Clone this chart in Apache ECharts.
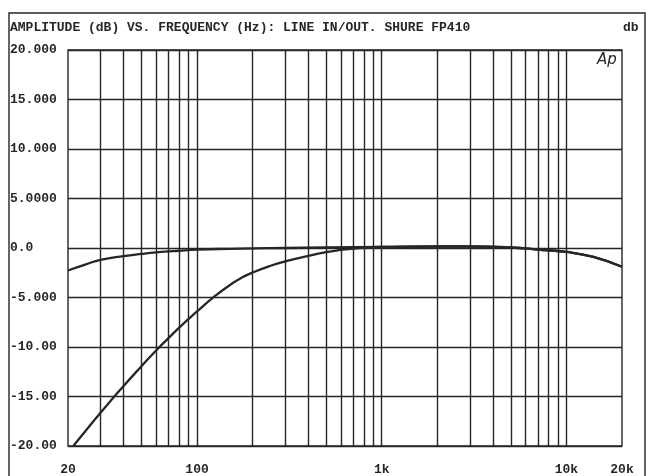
<!DOCTYPE html>
<html>
<head>
<meta charset="utf-8">
<script src="https://cdn.jsdelivr.net/npm/echarts@6/dist/echarts.min.js"></script>
<style>html,body{margin:0;padding:0;background:#fff}#c{width:649px;height:476px}</style>
</head>
<body>
<div id="c"></div>
<script>
// Frequency response data (Hz, dB)
const freqA = [20, 25, 30, 40, 50, 60, 80, 100, 150, 200, 300, 500, 1000, 2000, 3000, 5000, 7000, 10000, 14000, 20000];
const dbA   = [-2.27, -1.65, -1.2, -0.82, -0.6, -0.45, -0.28, -0.17, -0.08, -0.04, 0, 0.05, 0.1, 0.15, 0.15, 0.05, -0.15, -0.4, -0.9, -1.9];

const freqB = [21.36, 25, 30, 35, 40, 50, 60, 70, 80, 90, 100, 122, 150, 175, 200, 250, 300, 400, 500, 600, 700, 1000, 2000, 3000, 5000, 7000, 10000, 14000, 20000];
const dbB   = [-20, -18.43, -16.65, -15.18, -13.93, -11.94, -10.35, -9.1, -8.05, -7.16, -6.4, -5.02, -3.76, -2.99, -2.47, -1.79, -1.35, -0.79, -0.42, -0.2, -0.05, 0.1, 0.15, 0.15, 0.05, -0.15, -0.4, -0.9, -1.9];

// Axis tick labels
const yTicks = [20, 15, 10, 5, 0, -5, -10, -15, -20];
const yTickLabels = ['20.000', '15.000', '10.000', '5.0000', '0.0', '-5.000', '-10.00', '-15.00', '-20.00'];
const xTicks = [20, 100, 1000, 10000, 20000];
const xTickLabels = ['20', '100', '1k', '10k', '20k'];

// Vertical log grid lines
const gridFreqs = [30, 40, 50, 60, 70, 80, 90, 100, 200, 300, 400, 500, 600, 700, 800, 900, 1000,
  2000, 3000, 4000, 5000, 6000, 7000, 8000, 9000, 10000];

const titleText = 'AMPLITUDE (dB) VS. FREQUENCY (Hz): LINE IN/OUT. SHURE FP410';
const unitText = 'db';
const badgeText = 'Ap';

const INK = '#262626';
const FONT = '"Liberation Mono", "DejaVu Sans Mono", monospace';

const chart = echarts.init(document.getElementById('c'));
chart.setOption({
  backgroundColor: '#fff',
  animation: false,
  grid: { left: 68, right: 27, top: 50, bottom: 23, show: true, borderColor: INK, borderWidth: 1.4, backgroundColor: 'transparent' },
  xAxis: {
    type: 'log', logBase: 10, min: 20, max: 20000,
    axisLine: { show: false }, axisTick: { show: false },
    splitLine: { show: false }, minorSplitLine: { show: false },
    axisLabel: {
      margin: 17, color: INK, fontFamily: FONT, fontSize: 13, fontWeight: 'bold',
      showMinLabel: true, showMaxLabel: true,
      formatter: function (v) {
        for (let i = 0; i < xTicks.length; i++) {
          if (Math.abs(v - xTicks[i]) / xTicks[i] < 1e-6) return xTickLabels[i];
        }
        return '';
      }
    }
  },
  yAxis: {
    type: 'value', min: -20, max: 20, interval: 5,
    axisLine: { show: false }, axisTick: { show: false },
    splitLine: { show: true, lineStyle: { color: INK, width: 1.4 } },
    axisLabel: {
      margin: 58, align: 'left', color: INK, fontFamily: FONT, fontSize: 13, fontWeight: 'bold',
      formatter: function (v) {
        const i = yTicks.indexOf(Math.round(v));
        return i >= 0 ? yTickLabels[i] : '';
      }
    }
  },
  graphic: [
    { type: 'rect', shape: { x: 9, y: 13, width: 636, height: 480 }, style: { fill: 'none', stroke: INK, lineWidth: 1.4 }, z: 0 },
    { type: 'text', left: 10, top: 21, style: { text: titleText, fill: INK, font: 'bold 13px ' + FONT } },
    { type: 'text', left: 623, top: 21, style: { text: unitText, fill: INK, font: 'bold 13px ' + FONT } },
    { type: 'text', left: 597, top: 53, style: { text: badgeText, fill: INK, font: 'italic 15px "DejaVu Sans", sans-serif' } }
  ],
  series: [
    {
      type: 'line', name: 'grid', data: [], silent: true,
      markLine: {
        silent: true, symbol: 'none', label: { show: false },
        lineStyle: { color: INK, width: 1.4, type: 'solid' },
        data: gridFreqs.map(f => ({ xAxis: f }))
      }
    },
    {
      type: 'line', name: 'A', smooth: 0.5, showSymbol: false,
      lineStyle: { color: INK, width: 2.3 },
      data: freqA.map((f, i) => [f, dbA[i]])
    },
    {
      type: 'line', name: 'B', smooth: 0.5, showSymbol: false,
      lineStyle: { color: INK, width: 2.3 },
      data: freqB.map((f, i) => [f, dbB[i]])
    }
  ]
});
</script>
</body>
</html>
